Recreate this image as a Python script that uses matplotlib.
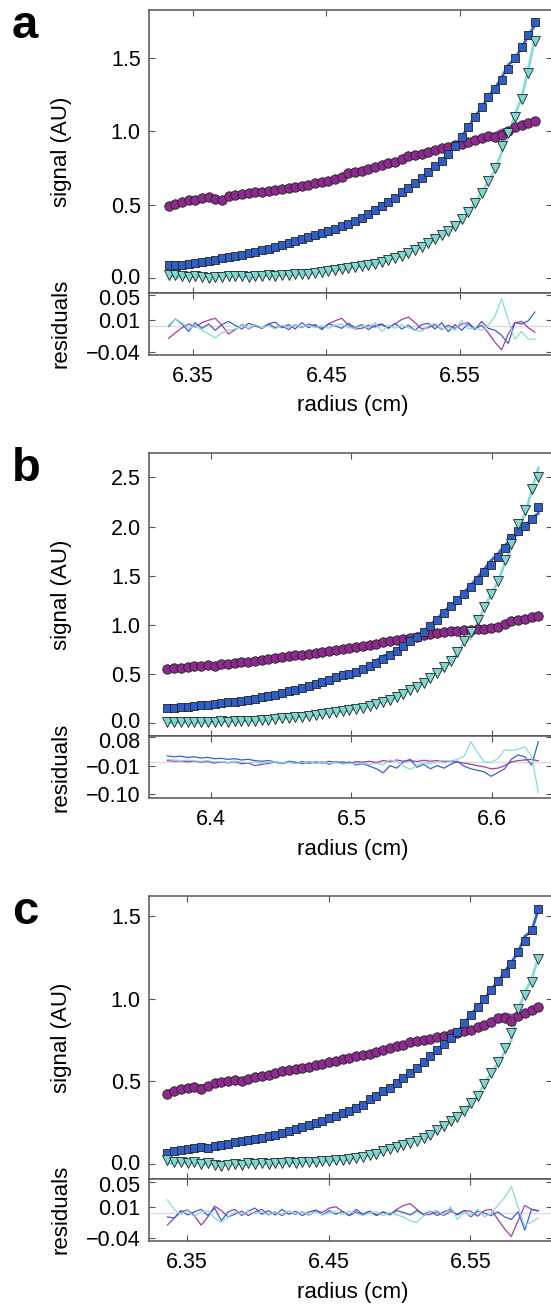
import numpy as np
import matplotlib
matplotlib.use("Agg")
import matplotlib.pyplot as plt
from matplotlib.transforms import ScaledTranslation

plt.rcParams['font.family'] = ['Liberation Sans', 'DejaVu Sans']

# ---- data ---------------------------------------------------------------
# radius sampling grid (start, end, number of scans points) per panel
grid_a = (6.332, 6.606, 56)
grid_b = (6.369, 6.633, 56)
grid_c = (6.336, 6.598, 56)

# panel a signals
circ_a = [0.487, 0.502, 0.515, 0.528, 0.534, 0.547, 0.552, 0.538, 0.530, 0.556,
          0.566, 0.574, 0.578, 0.583, 0.588, 0.592, 0.598, 0.603, 0.612, 0.618,
          0.626, 0.634, 0.645, 0.652, 0.664, 0.676, 0.690, 0.716, 0.722, 0.727,
          0.742, 0.755, 0.770, 0.785, 0.792, 0.812, 0.831, 0.838, 0.846, 0.857,
          0.870, 0.883, 0.895, 0.905, 0.917, 0.925, 0.941, 0.954, 0.968, 0.960,
          0.972, 1.002, 1.030, 1.045, 1.058, 1.072]
sq_a = [0.083, 0.088, 0.086, 0.095, 0.100, 0.108, 0.115, 0.118, 0.133, 0.142,
        0.148, 0.158, 0.166, 0.176, 0.188, 0.196, 0.208, 0.222, 0.236, 0.250,
        0.263, 0.276, 0.291, 0.302, 0.318, 0.334, 0.352, 0.370, 0.389, 0.410,
        0.436, 0.460, 0.488, 0.515, 0.545, 0.584, 0.614, 0.648, 0.682, 0.722,
        0.762, 0.800, 0.845, 0.898, 0.960, 1.030, 1.098, 1.168, 1.236, 1.290,
        1.352, 1.428, 1.500, 1.578, 1.660, 1.750]
tri_a = [0.020, 0.015, 0.008, 0.003, 0.012, 0.005, 0.000, 0.006, 0.004, 0.010,
         0.008, 0.012, 0.006, 0.014, 0.011, 0.016, 0.013, 0.020, 0.017, 0.024,
         0.026, 0.025, 0.035, 0.038, 0.044, 0.050, 0.058, 0.066, 0.072, 0.078,
         0.086, 0.096, 0.106, 0.118, 0.132, 0.148, 0.168, 0.190, 0.212, 0.236,
         0.262, 0.290, 0.318, 0.356, 0.398, 0.448, 0.508, 0.578, 0.658, 0.748,
         0.900, 0.988, 1.095, 1.220, 1.400, 1.620]
# panel a residuals
res_circ_a = [-0.019, -0.010, -0.002, 0.004, -0.001, 0.006, 0.010, 0.013, 0.002, -0.012,
              -0.005, 0.003, -0.004, 0.002, -0.003, 0.004, -0.002, 0.001, -0.005, 0.003,
              -0.002, 0.004, 0.001, -0.003, 0.004, 0.009, 0.013, 0.002, -0.004, -0.003,
              0.002, -0.001, 0.003, -0.002, 0.004, 0.011, 0.015, 0.006, -0.004, -0.002,
              0.003, -0.005, 0.002, -0.003, 0.004, 0.006, -0.004, 0.002, -0.010, -0.025,
              -0.037, -0.012, 0.006, 0.008, -0.002, -0.009]
res_sq_a = [0.000, 0.012, 0.004, -0.008, 0.006, -0.003, 0.004, -0.006, 0.003, 0.008,
            0.002, -0.004, 0.005, 0.001, -0.003, 0.004, 0.007, -0.002, 0.003, -0.004,
            0.006, -0.002, 0.003, -0.005, 0.004, 0.001, -0.003, 0.005, -0.002, 0.003,
            -0.005, 0.002, 0.004, -0.003, 0.005, -0.004, 0.002, -0.006, 0.003, 0.005,
            -0.004, 0.006, -0.008, 0.003, -0.006, 0.004, -0.005, 0.008, -0.003, -0.006,
            -0.014, -0.027, 0.006, 0.004, 0.009, 0.023]
res_tri_a = [0.002, 0.012, 0.006, -0.004, 0.002, -0.006, -0.012, -0.018, -0.010, -0.006,
             -0.004, 0.002, -0.003, 0.003, -0.002, 0.001, -0.004, 0.002, -0.002, 0.003,
             -0.001, 0.002, -0.002, 0.001, -0.003, 0.002, 0.004, -0.002, -0.003, 0.001,
             -0.002, 0.006, -0.008, 0.002, -0.003, 0.003, -0.002, -0.006, -0.008, 0.001,
             0.005, -0.004, -0.001, -0.006, 0.010, -0.004, -0.002, -0.006, 0.002, 0.016,
             0.044, 0.010, -0.020, -0.008, -0.020, -0.020]

# panel b signals
circ_b = [0.553, 0.560, 0.558, 0.570, 0.578, 0.583, 0.590, 0.586, 0.600, 0.604,
          0.612, 0.620, 0.618, 0.630, 0.648, 0.657, 0.668, 0.676, 0.684, 0.690,
          0.698, 0.708, 0.716, 0.726, 0.734, 0.745, 0.755, 0.766, 0.775, 0.785,
          0.797, 0.810, 0.822, 0.835, 0.846, 0.858, 0.870, 0.882, 0.895, 0.903,
          0.915, 0.925, 0.934, 0.941, 0.945, 0.950, 0.955, 0.962, 0.970, 0.978,
          1.010, 1.040, 1.052, 1.062, 1.078, 1.094]
sq_b = [0.152, 0.158, 0.163, 0.170, 0.175, 0.182, 0.190, 0.198, 0.204, 0.212,
        0.220, 0.230, 0.240, 0.252, 0.264, 0.278, 0.292, 0.308, 0.325, 0.342,
        0.362, 0.382, 0.404, 0.424, 0.444, 0.466, 0.486, 0.505, 0.526, 0.552,
        0.580, 0.615, 0.652, 0.690, 0.735, 0.790, 0.838, 0.882, 0.925, 0.985,
        1.048, 1.118, 1.190, 1.255, 1.318, 1.385, 1.458, 1.540, 1.610, 1.690,
        1.785, 1.880, 1.952, 2.010, 2.075, 2.200]
tri_b = [0.018, 0.014, 0.016, 0.012, 0.018, 0.015, 0.017, 0.016, 0.019, 0.018,
         0.022, 0.021, 0.026, 0.028, 0.034, 0.038, 0.044, 0.050, 0.055, 0.062,
         0.068, 0.074, 0.083, 0.092, 0.100, 0.110, 0.120, 0.132, 0.145, 0.158,
         0.176, 0.195, 0.214, 0.240, 0.270, 0.302, 0.336, 0.372, 0.412, 0.460,
         0.510, 0.568, 0.630, 0.720, 0.840, 0.930, 1.050, 1.180, 1.310, 1.450,
         1.660, 1.820, 2.030, 2.170, 2.380, 2.500]
# panel b residuals
res_circ_b = [0.006, 0.004, 0.005, 0.002, 0.004, 0.001, 0.003, -0.002, 0.002, -0.001,
              0.003, -0.004, -0.002, -0.010, -0.006, -0.003, 0.002, -0.004, 0.001, -0.002,
              0.003, -0.003, 0.002, -0.002, 0.004, -0.001, 0.002, -0.003, 0.003, 0.001,
              0.004, 0.000, 0.006, 0.003, 0.008, 0.004, 0.006, 0.003, 0.007, 0.004,
              0.006, 0.002, 0.004, 0.001, -0.002, -0.006, -0.010, -0.014, -0.020, -0.018,
              -0.010, 0.002, 0.006, 0.008, 0.010, 0.005]
res_sq_b = [0.021, 0.018, 0.020, 0.016, 0.018, 0.014, 0.016, 0.012, 0.013, 0.010,
            0.012, 0.008, 0.010, 0.006, 0.004, 0.006, 0.002, -0.003, 0.004, 0.001,
            -0.004, 0.003, -0.002, 0.002, -0.006, 0.003, -0.003, 0.002, -0.008, -0.004,
            -0.012, -0.020, -0.033, -0.010, -0.018, 0.002, 0.010, -0.015, -0.006, -0.020,
            -0.010, -0.018, -0.006, 0.004, -0.012, -0.020, -0.025, -0.030, -0.044, -0.032,
            -0.020, 0.010, 0.024, 0.018, -0.008, 0.066]
res_tri_b = [0.010, 0.008, 0.006, 0.007, 0.005, 0.004, 0.006, 0.002, 0.003, 0.000,
             0.004, 0.001, -0.001, 0.002, -0.002, 0.000, 0.003, -0.002, 0.001, -0.003,
             0.000, 0.002, -0.002, 0.001, -0.003, 0.000, -0.005, -0.002, -0.004, -0.003,
             -0.006, -0.002, -0.008, 0.008, 0.004, -0.012, -0.022, -0.010, 0.000, -0.004,
             0.002, 0.006, 0.004, 0.010, 0.020, 0.066, 0.030, 0.002, 0.000, 0.012,
             0.040, 0.038, 0.042, 0.050, 0.020, -0.095]

# panel c signals
circ_c = [0.423, 0.440, 0.452, 0.462, 0.468, 0.456, 0.470, 0.490, 0.496, 0.500,
          0.506, 0.504, 0.516, 0.526, 0.530, 0.540, 0.552, 0.560, 0.566, 0.574,
          0.580, 0.588, 0.598, 0.604, 0.614, 0.622, 0.632, 0.644, 0.652, 0.658,
          0.666, 0.676, 0.690, 0.700, 0.712, 0.722, 0.738, 0.746, 0.750, 0.756,
          0.766, 0.776, 0.788, 0.790, 0.802, 0.808, 0.826, 0.840, 0.858, 0.880,
          0.884, 0.862, 0.898, 0.916, 0.934, 0.951]
sq_c = [0.068, 0.076, 0.082, 0.088, 0.094, 0.100, 0.098, 0.110, 0.116, 0.122,
        0.130, 0.136, 0.142, 0.152, 0.160, 0.168, 0.178, 0.188, 0.200, 0.212,
        0.226, 0.236, 0.248, 0.262, 0.276, 0.290, 0.306, 0.322, 0.340, 0.358,
        0.390, 0.410, 0.440, 0.462, 0.490, 0.520, 0.550, 0.580, 0.618, 0.652,
        0.690, 0.726, 0.764, 0.800, 0.850, 0.900, 0.950, 0.996, 1.050, 1.104,
        1.156, 1.210, 1.280, 1.350, 1.415, 1.540]
tri_c = [0.024, 0.010, 0.014, 0.004, 0.012, -0.002, 0.006, -0.008, -0.012, -0.004,
         0.002, -0.006, 0.004, -0.002, 0.006, 0.002, 0.008, 0.004, 0.010, 0.006,
         0.012, 0.014, 0.010, 0.018, 0.016, 0.024, 0.026, 0.030, 0.036, 0.042,
         0.052, 0.062, 0.076, 0.090, 0.100, 0.114, 0.126, 0.140, 0.155, 0.178,
         0.206, 0.232, 0.262, 0.284, 0.318, 0.366, 0.412, 0.482, 0.548, 0.618,
         0.700, 0.790, 0.935, 1.020, 1.100, 1.240]
# panel c residuals
res_circ_c = [-0.019, -0.008, 0.002, 0.005, -0.004, -0.019, -0.006, 0.011, 0.004, -0.006,
              -0.002, 0.003, -0.004, 0.002, 0.006, -0.003, 0.002, -0.004, 0.003, -0.002,
              0.002, -0.003, 0.004, 0.001, 0.008, 0.010, 0.002, -0.004, 0.002, -0.002,
              0.003, -0.003, 0.002, -0.002, 0.006, 0.012, 0.015, 0.006, -0.003, -0.002,
              0.002, -0.004, 0.003, -0.002, 0.004, 0.003, -0.005, 0.004, 0.006, -0.010,
              -0.025, -0.037, -0.012, 0.012, 0.006, 0.003]
res_sq_c = [-0.006, -0.008, 0.004, -0.003, 0.002, 0.006, -0.004, 0.008, -0.012, 0.002,
            0.006, -0.004, 0.003, 0.008, -0.002, 0.004, -0.003, 0.006, -0.002, 0.003,
            -0.004, 0.002, 0.005, -0.003, 0.004, -0.002, 0.003, -0.004, 0.006, -0.002,
            0.003, -0.004, 0.002, -0.003, 0.004, 0.001, -0.003, 0.004, -0.002, 0.003,
            -0.004, 0.002, 0.006, -0.003, 0.004, -0.006, 0.003, 0.000, -0.004, 0.002,
            -0.006, -0.010, 0.002, -0.027, 0.006, 0.004]
res_tri_c = [0.021, 0.006, -0.002, 0.004, -0.006, 0.002, 0.004, -0.008, -0.015, -0.006,
             0.002, -0.002, 0.003, -0.001, 0.002, -0.003, 0.002, -0.002, 0.003, -0.001,
             0.001, -0.002, 0.002, -0.003, 0.001, 0.002, -0.002, 0.003, -0.001, -0.004,
             0.000, 0.002, -0.004, 0.001, -0.003, -0.006, -0.012, -0.015, -0.004, 0.002,
             0.004, -0.003, 0.010, -0.010, 0.002, -0.004, 0.006, -0.006, 0.000, 0.012,
             0.024, 0.042, 0.010, -0.020, -0.014, -0.008]

# axis ticks / labels
xt_a = [6.35, 6.45, 6.55]; xtl_a = ['6.35', '6.45', '6.55']
xt_b = [6.4, 6.5, 6.6]; xtl_b = ['6.4', '6.5', '6.6']
xt_c = [6.35, 6.45, 6.55]; xtl_c = ['6.35', '6.45', '6.55']
yt_a = [0.0, 0.5, 1.0, 1.5]
yt_b = [0.0, 0.5, 1.0, 1.5, 2.0, 2.5]
yt_c = [0.0, 0.5, 1.0, 1.5]
rt_a = [-0.04, 0.01, 0.05]; rtl_a = ['\u22120.04', '0.01', '0.05']
rt_b = [-0.10, -0.01, 0.08]; rtl_b = ['\u22120.10', '\u22120.01', '0.08']
rt_c = [-0.04, 0.01, 0.05]; rtl_c = ['\u22120.04', '0.01', '0.05']

# ---- styling ------------------------------------------------------------
W, H = 551, 1304
C_CIRC, C_SQ, C_TRI = '#8c2a8e', '#2f5ec6', '#7fd8d0'
L_CIRC, L_SQ, L_TRI = '#a83aa8', '#3a60d4', '#86dcd8'
FRAME = '#555555'

fig = plt.figure(figsize=(W / 100, H / 100), dpi=100)


def fx(px):
    return px / W


def fy(py):
    return 1 - py / H


def style(ax):
    for s in ax.spines.values():
        s.set_color(FRAME)
        s.set_linewidth(1.1)
    ax.tick_params(direction='in', top=True, right=True, length=4.5,
                   width=0.8, color=FRAME, labelsize=15.5, pad=6)


def nudge(label, dy_px):
    # shift one tick label vertically by a few pixels
    label.set_transform(label.get_transform() +
                        ScaledTranslation(0, dy_px / 100, fig.dpi_scale_trans))


def panel(letter, top, mid, bot, grid, circ, sq, tri, rc, rs, rtr,
          xlim, ylim, rlim, xt, xtl, yt, rt, rtl, sep):
    r = np.linspace(*grid)
    left, right = 149, 552
    ax = fig.add_axes([fx(left), fy(mid), fx(right - left), (mid - top) / H])
    axr = fig.add_axes([fx(left), fy(bot), fx(right - left), (bot - mid) / H])

    # fitted curves = data - residual
    ax.plot(r, np.array(circ) - np.array(rc), color=L_CIRC, lw=2, zorder=1)
    ax.plot(r, np.array(sq) - np.array(rs), color=L_SQ, lw=2, zorder=1)
    ax.plot(r, np.array(tri) - np.array(rtr), color=L_TRI, lw=2, zorder=1)
    ax.plot(r, circ, 'o', ms=6.8, mfc=C_CIRC, mec='#222222', mew=0.6, zorder=2)
    ax.plot(r, sq, 's', ms=6.3, mfc=C_SQ, mec='#222222', mew=0.6, zorder=3)
    ax.plot(r, tri, 'v', ms=7.0, mfc=C_TRI, mec='#222222', mew=0.6, zorder=4)
    ax.set_xlim(*xlim)
    ax.set_ylim(*ylim)
    ax.set_xticks(xt)
    ax.set_yticks(yt)
    ax.set_yticklabels(['%.1f' % v for v in yt])
    style(ax)
    ax.tick_params(labelbottom=False)

    axr.axhline(0, color='#dcdcdc', lw=1, zorder=0)
    axr.plot(r, rc, color=L_CIRC, lw=0.9)
    axr.plot(r, rs, color=L_SQ, lw=0.9)
    axr.plot(r, rtr, color=L_TRI, lw=0.9)
    axr.set_xlim(*xlim)
    axr.set_ylim(*rlim)
    axr.set_xticks(xt)
    axr.set_xticklabels(xtl)
    axr.set_yticks(rt)
    axr.set_yticklabels(rtl)
    style(axr)
    axr.tick_params(axis='x', pad=8)

    # keep the stacked "0.0" / top residual labels from colliding
    nudge(ax.yaxis.get_major_ticks()[0].label1, sep)
    nudge(axr.yaxis.get_major_ticks()[-1].label1, -sep)

    fig.text(fx(61.5), fy((top + mid) / 2), 'signal (AU)', rotation=90,
             ha='center', va='center', fontsize=16)
    fig.text(fx(61.5), fy((mid + bot) / 2), 'residuals', rotation=90,
             ha='center', va='center', fontsize=16)
    fig.text(fx(353), fy(bot + 51.5), 'radius (cm)', ha='center',
             va='center', fontsize=16)
    fig.text(fx(12), fy(top + 28), letter, ha='left', va='baseline',
             fontsize=34, fontweight='bold')


panel('a', 10, 292.7, 354.5, grid_a, circ_a, sq_a, tri_a,
      res_circ_a, res_sq_a, res_tri_a,
      (6.3173, 6.6188), (-0.103, 1.830), (-0.0444, 0.0535),
      xt_a, xtl_a, yt_a, rt_a, rtl_a, 2)
panel('b', 453.3, 735.7, 798.3, grid_b, circ_b, sq_b, tri_b,
      res_circ_b, res_sq_b, res_tri_b,
      (6.356, 6.6427), (-0.126, 2.744), (-0.1137, 0.085),
      xt_b, xtl_b, yt_b, rt_b, rtl_b, 3)
panel('c', 896, 1179, 1240.7, grid_c, circ_c, sq_c, tri_c,
      res_circ_c, res_sq_c, res_tri_c,
      (6.323, 6.6077), (-0.091, 1.621), (-0.0438, 0.0541),
      xt_c, xtl_c, yt_c, rt_c, rtl_c, 2)

fig.savefig('out.png', dpi=100)
